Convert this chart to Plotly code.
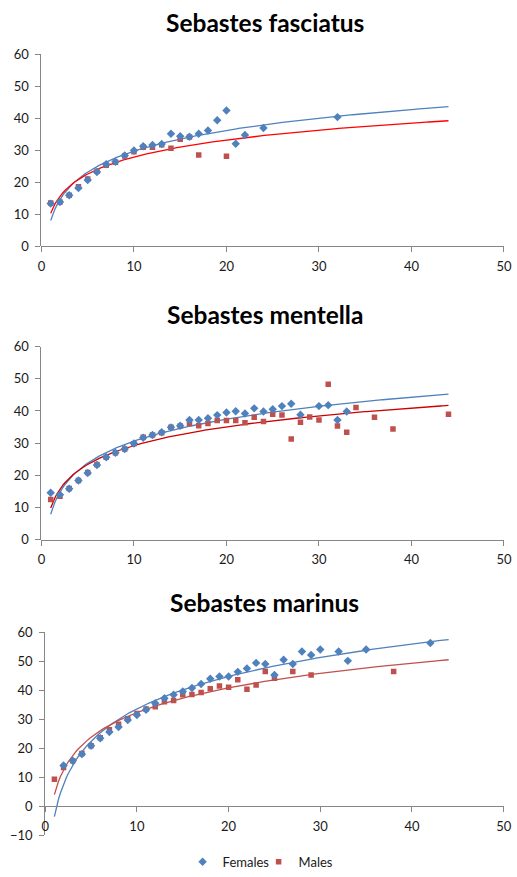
import numpy as np
import plotly.graph_objects as go

# ---- Data: length-at-age (cm) by sex for three Sebastes species ----
fasc_f_age = [1, 2, 3, 4, 5, 6, 7, 8, 9, 10, 11, 12, 13, 14, 15, 16, 17, 18, 19, 20, 21, 22, 24, 32]
fasc_f_len = [13.3, 13.8, 15.9, 18.2, 20.7, 23.2, 25.6, 26.4, 28.3, 29.9, 31.2, 31.6, 31.9, 35.1,
              34.3, 34.2, 35.1, 36.1, 39.3, 42.4, 32.0, 34.7, 36.9, 40.3]
fasc_m_age = [1, 2, 3, 4, 5, 6, 7, 8, 9, 10, 11, 12, 13, 14, 15, 16, 17, 20]
fasc_m_len = [13.5, 13.8, 15.9, 18.6, 21.0, 23.4, 25.3, 26.2, 28.2, 29.5, 30.9, 30.9, 31.7, 30.6,
              33.4, 34.1, 28.5, 28.1]

ment_f_age = [1, 2, 3, 4, 5, 6, 7, 8, 9, 10, 11, 12, 13, 14, 15, 16, 17, 18, 19, 20, 21, 22, 23,
              24, 25, 26, 27, 28, 30, 31, 32, 33]
ment_f_len = [14.6, 14.0, 15.8, 18.4, 20.7, 23.2, 25.6, 27.0, 28.2, 29.9, 31.7, 32.5, 33.4, 34.9,
              35.4, 37.2, 37.2, 37.7, 38.7, 39.5, 39.9, 39.2, 40.8, 39.8, 40.5, 41.5, 42.2, 38.8,
              41.5, 41.8, 37.2, 39.8]
ment_m_age = [1, 2, 3, 4, 5, 6, 7, 8, 9, 10, 11, 12, 13, 14, 15, 16, 17, 18, 19, 20, 21, 22, 23,
              24, 25, 26, 27, 28, 29, 30, 31, 32, 33, 34, 36, 38, 44]
ment_m_len = [12.5, 13.5, 15.9, 18.4, 20.9, 23.4, 25.6, 27.0, 28.2, 29.8, 31.8, 32.5, 33.2, 34.9,
              35.3, 36.1, 35.4, 36.1, 37.0, 37.0, 37.0, 36.3, 38.0, 36.7, 39.0, 38.7, 31.3, 36.5,
              38.1, 37.2, 48.3, 35.3, 33.4, 41.1, 38.0, 34.4, 39.0]

mari_f_age = [2, 3, 4, 5, 6, 7, 8, 9, 10, 11, 12, 13, 14, 15, 16, 17, 18, 19, 20, 21, 22, 23, 24,
              25, 26, 27, 28, 29, 30, 32, 33, 35, 42]
mari_f_len = [14.1, 15.7, 18.0, 20.9, 23.5, 25.6, 27.4, 29.8, 31.5, 33.3, 35.6, 37.3, 38.5, 39.6,
              40.8, 42.2, 44.0, 44.8, 44.8, 46.4, 47.6, 49.5, 49.1, 45.3, 50.6, 49.1, 53.4, 52.2,
              54.1, 53.4, 50.2, 54.1, 56.4]
mari_m_age = [1, 2, 3, 4, 5, 6, 7, 8, 9, 10, 11, 12, 13, 14, 15, 16, 17, 18, 19, 20, 21, 22, 23,
              24, 25, 27, 29, 38]
mari_m_len = [9.3, 13.4, 15.7, 18.2, 20.9, 23.7, 26.4, 28.3, 30.2, 32.0, 33.6, 34.4, 36.1, 36.5,
              38.5, 38.6, 39.3, 40.6, 41.5, 41.1, 43.7, 40.4, 41.9, 46.5, 44.2, 46.5, 45.3, 46.5]

titles = ["Sebastes fasciatus", "Sebastes mentella", "Sebastes marinus"]
series_names = ["Females", "Males"]
trend_age_span = (1, 44)

BLUE = "#4F81BD"
RED_MARK = "#C0504D"
trend_reds = ["#FF0000", "#CC0000", "#C0504D"]

W, H = 517, 877
# Layout positions below are screen pixels of the displayed page; they are
# converted to figure pixels allowing for the page body margin and the fit of
# the page into W x H.
BODY = 8
SX, SY = W / (W + 2 * BODY), H / (H + 2 * BODY)


def px_x(x):
    return 0.5 * (x + (x / SX - BODY)) / W


def px_y(y):
    return 1 - (y / SY - BODY) / H


panels = [
    # plot-area extents (screen pixels) and y range of each panel
    dict(xpx=(41.7, 508.0), ypx=(54.0, 246.7), yr=(0, 60)),
    dict(xpx=(41.7, 508.0), ypx=(347.3, 541.0), yr=(0, 60)),
    dict(xpx=(45.5, 507.7), ypx=(634.0, 837.3), yr=(-10, 60)),
]
title_y_px = [22, 315, 604]

data = [
    (fasc_f_age, fasc_f_len, fasc_m_age, fasc_m_len),
    (ment_f_age, ment_f_len, ment_m_age, ment_m_len),
    (mari_f_age, mari_f_len, mari_m_age, mari_m_len),
]


def log_fit(ages, lens):
    """Least-squares fit of length = a*ln(age) + b."""
    a, b = np.polyfit(np.log(np.asarray(ages, float)), np.asarray(lens, float), 1)
    xs = np.linspace(trend_age_span[0], trend_age_span[1], 200)
    return xs, a * np.log(xs) + b


fig = go.Figure()
axis_color = "#868686"
FONT = "Lato, Calibri, sans-serif"
tick_font = dict(family=FONT, size=13, color="#1a1a1a")

for i, (p, (fa, fl, ma, ml)) in enumerate(zip(panels, data)):
    n = "" if i == 0 else str(i + 1)
    xd = [px_x(p["xpx"][0]), px_x(p["xpx"][1])]
    yd = [px_y(p["ypx"][1]), px_y(p["ypx"][0])]
    y0, y1 = p["yr"]
    # x axis sits at y = 0 (matters when the y range extends below zero)
    x_pos = yd[0] + (yd[1] - yd[0]) * (0 - y0) / (y1 - y0)

    fig.update_layout({
        f"xaxis{n}": dict(domain=xd, range=[0, 50], dtick=10, tick0=0,
                          anchor="free", position=x_pos,
                          showline=True, linecolor=axis_color, linewidth=1,
                          ticks="outside", ticklen=5, tickcolor=axis_color,
                          ticklabelstandoff=3, ticklabeloverflow="allow",
                          showgrid=False, zeroline=False, tickfont=tick_font),
        f"yaxis{n}": dict(domain=yd, range=[y0, y1], dtick=10, tick0=0,
                          anchor=f"x{n}",
                          showline=True, linecolor=axis_color, linewidth=1,
                          ticks="outside", ticklen=5, tickcolor=axis_color,
                          ticklabelstandoff=4,
                          showgrid=False, zeroline=False, tickfont=tick_font),
    })

    xs_f, ys_f = log_fit(fa, fl)
    xs_m, ys_m = log_fit(ma, ml)
    fig.add_trace(go.Scatter(x=xs_f, y=ys_f, mode="lines", xaxis=f"x{n}", yaxis=f"y{n}",
                             line=dict(color=BLUE, width=1.3), showlegend=False,
                             hoverinfo="skip"))
    fig.add_trace(go.Scatter(x=xs_m, y=ys_m, mode="lines", xaxis=f"x{n}", yaxis=f"y{n}",
                             line=dict(color=trend_reds[i], width=1.3), showlegend=False,
                             hoverinfo="skip"))
    fig.add_trace(go.Scatter(x=ma, y=ml, mode="markers", name=series_names[1],
                             xaxis=f"x{n}", yaxis=f"y{n}", legendgroup="m",
                             showlegend=(i == 0), legendrank=2,
                             marker=dict(symbol="square", size=5.5, color=RED_MARK)))
    fig.add_trace(go.Scatter(x=fa, y=fl, mode="markers", name=series_names[0],
                             xaxis=f"x{n}", yaxis=f"y{n}", legendgroup="f",
                             showlegend=(i == 0), legendrank=1,
                             marker=dict(symbol="diamond", size=6.5, color=BLUE)))

    fig.add_annotation(text=f"<b>{titles[i]}</b>", xref="paper", yref="paper",
                       x=px_x(267), y=px_y(title_y_px[i]), xanchor="center",
                       yanchor="middle", showarrow=False,
                       font=dict(family=FONT, size=24.5, color="#000000"))

fig.update_layout(
    width=W, height=H,
    margin=dict(l=0, r=0, t=0, b=0),
    paper_bgcolor="white", plot_bgcolor="white",
    showlegend=True,
    legend=dict(orientation="h", x=px_x(184), xanchor="left", y=px_y(864),
                yanchor="middle", font=dict(family=FONT, size=13, color="#1a1a1a"),
                itemwidth=30, entrywidth=31, traceorder="normal",
                bgcolor="rgba(0,0,0,0)", tracegroupgap=0),
)

fig.write_html("out.html")
